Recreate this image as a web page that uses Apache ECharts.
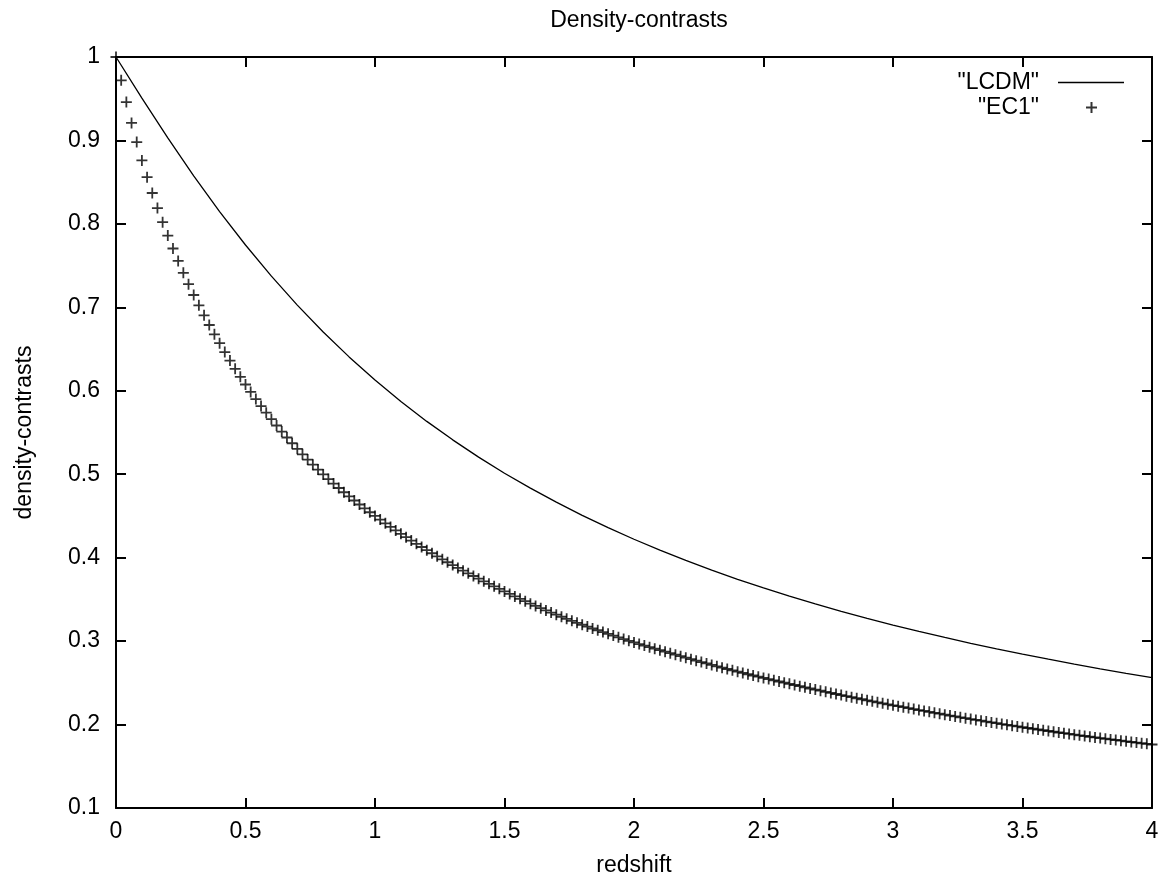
<!DOCTYPE html>
<html>
<head>
<meta charset="utf-8">
<title>Density-contrasts</title>
<script src="https://cdn.jsdelivr.net/npm/echarts@6/dist/echarts.min.js"></script>
<style>
    html, body { margin: 0; padding: 0; background: #fff; }
    #chart { width: 1167px; height: 882px; }
</style>
</head>
<body>
<div id="chart"></div>
<script>
// redshift samples of the LCDM curve
const lcdmZ = [0, 0.1, 0.2, 0.3, 0.4, 0.5, 0.6, 0.7, 0.8, 0.9,
    1, 1.1, 1.2, 1.3, 1.4, 1.5, 1.6, 1.7, 1.8, 1.9,
    2, 2.1, 2.2, 2.3, 2.4, 2.5, 2.6, 2.7, 2.8, 2.9,
    3, 3.1, 3.2, 3.3, 3.4, 3.5, 3.6, 3.7, 3.8, 3.9, 4]
const lcdmValues = [1.0000, 0.9507, 0.9030, 0.8576, 0.8148, 0.7747, 0.7374, 0.7027, 0.6705, 0.6406,
    0.6129, 0.5872, 0.5633, 0.5412, 0.5205, 0.5012, 0.4833, 0.4665, 0.4507, 0.4359,
    0.4221, 0.4090, 0.3967, 0.3851, 0.3741, 0.3638, 0.3539, 0.3446, 0.3357, 0.3273,
    0.3193, 0.3116, 0.3044, 0.2974, 0.2907, 0.2844, 0.2783, 0.2724, 0.2668, 0.2614, 0.2562]

// redshift samples of the EC1 points
const ec1Z = [0, 0.02, 0.04, 0.06, 0.08, 0.1, 0.12, 0.14, 0.16, 0.18,
    0.2, 0.22, 0.24, 0.26, 0.28, 0.3, 0.32, 0.34, 0.36, 0.38,
    0.4, 0.42, 0.44, 0.46, 0.48, 0.5, 0.52, 0.54, 0.56, 0.58,
    0.6, 0.62, 0.64, 0.66, 0.68, 0.7, 0.72, 0.74, 0.76, 0.78,
    0.8, 0.82, 0.84, 0.86, 0.88, 0.9, 0.92, 0.94, 0.96, 0.98,
    1, 1.02, 1.04, 1.06, 1.08, 1.1, 1.12, 1.14, 1.16, 1.18,
    1.2, 1.22, 1.24, 1.26, 1.28, 1.3, 1.32, 1.34, 1.36, 1.38,
    1.4, 1.42, 1.44, 1.46, 1.48, 1.5, 1.52, 1.54, 1.56, 1.58,
    1.6, 1.62, 1.64, 1.66, 1.68, 1.7, 1.72, 1.74, 1.76, 1.78,
    1.8, 1.82, 1.84, 1.86, 1.88, 1.9, 1.92, 1.94, 1.96, 1.98,
    2, 2.02, 2.04, 2.06, 2.08, 2.1, 2.12, 2.14, 2.16, 2.18,
    2.2, 2.22, 2.24, 2.26, 2.28, 2.3, 2.32, 2.34, 2.36, 2.38,
    2.4, 2.42, 2.44, 2.46, 2.48, 2.5, 2.52, 2.54, 2.56, 2.58,
    2.6, 2.62, 2.64, 2.66, 2.68, 2.7, 2.72, 2.74, 2.76, 2.78,
    2.8, 2.82, 2.84, 2.86, 2.88, 2.9, 2.92, 2.94, 2.96, 2.98,
    3, 3.02, 3.04, 3.06, 3.08, 3.1, 3.12, 3.14, 3.16, 3.18,
    3.2, 3.22, 3.24, 3.26, 3.28, 3.3, 3.32, 3.34, 3.36, 3.38,
    3.4, 3.42, 3.44, 3.46, 3.48, 3.5, 3.52, 3.54, 3.56, 3.58,
    3.6, 3.62, 3.64, 3.66, 3.68, 3.7, 3.72, 3.74, 3.76, 3.78,
    3.8, 3.82, 3.84, 3.86, 3.88, 3.9, 3.92, 3.94, 3.96, 3.98, 4]
const ec1Values = [
    1.0000, 0.9720, 0.9460, 0.9210, 0.8980, 0.8760, 0.8560, 0.8370, 0.8190, 0.8020, 0.7860,
    0.7705, 0.7556, 0.7414, 0.7278, 0.7148,
    0.7024, 0.6904, 0.6788, 0.6677, 0.6570,
    0.6464, 0.6362, 0.6263, 0.6167, 0.6075,
    0.5986, 0.5900, 0.5817, 0.5737, 0.5660,
    0.5584, 0.5511, 0.5440, 0.5371, 0.5304,
    0.5239, 0.5176, 0.5115, 0.5056, 0.4998,
    0.4942, 0.4888, 0.4835, 0.4784, 0.4734,
    0.4685, 0.4637, 0.4590, 0.4544, 0.4500,
    0.4456, 0.4412, 0.4369, 0.4327, 0.4286,
    0.4245, 0.4205, 0.4166, 0.4128, 0.4090,
    0.4053, 0.4016, 0.3980, 0.3945, 0.3911,
    0.3877, 0.3844, 0.3812, 0.3780, 0.3748,
    0.3717, 0.3686, 0.3656, 0.3626, 0.3596,
    0.3566, 0.3536, 0.3507, 0.3478, 0.3449,
    0.3422, 0.3395, 0.3368, 0.3342, 0.3317,
    0.3292, 0.3267, 0.3243, 0.3219, 0.3196,
    0.3174, 0.3151, 0.3130, 0.3108, 0.3087,
    0.3066, 0.3045, 0.3024, 0.3004, 0.2984,
    0.2965, 0.2946, 0.2927, 0.2909, 0.2891,
    0.2873, 0.2855, 0.2837, 0.2819, 0.2801,
    0.2783, 0.2766, 0.2749, 0.2732, 0.2715,
    0.2698, 0.2682, 0.2666, 0.2650, 0.2634,
    0.2619, 0.2603, 0.2588, 0.2574, 0.2559,
    0.2545, 0.2530, 0.2516, 0.2502, 0.2488,
    0.2474, 0.2460, 0.2446, 0.2432, 0.2419,
    0.2406, 0.2392, 0.2379, 0.2366, 0.2353,
    0.2340, 0.2328, 0.2315, 0.2303, 0.2290,
    0.2278, 0.2266, 0.2254, 0.2243, 0.2231,
    0.2220, 0.2208, 0.2197, 0.2185, 0.2174,
    0.2163, 0.2152, 0.2141, 0.2130, 0.2119,
    0.2108, 0.2098, 0.2087, 0.2077, 0.2066,
    0.2056, 0.2046, 0.2036, 0.2026, 0.2016,
    0.2006, 0.1997, 0.1987, 0.1978, 0.1968,
    0.1959, 0.1950, 0.1941, 0.1932, 0.1923,
    0.1914, 0.1905, 0.1897, 0.1888, 0.1879,
    0.1871, 0.1863, 0.1854, 0.1846, 0.1838,
    0.1830, 0.1822, 0.1815, 0.1807, 0.1799,
    0.1791, 0.1784, 0.1776, 0.1769, 0.1761]

const seriesNames = ['"LCDM"', '"EC1"']

const font = 'Liberation Sans, Arial, sans-serif'
const plus = 'path://M0,5L10,5M5,0L5,10'

let chart = echarts.init(document.getElementById('chart'), null, {renderer: 'canvas'})

// one frame axis: ticks inside, optional labels
function frameAxis(position, withLabels, range) {
    return {
        type: 'value',
        position: position,
        min: range[0],
        max: range[1],
        interval: range[2],
        axisLine: {show: true, onZero: false, lineStyle: {color: '#000', width: 2}},
        axisTick: {show: true, inside: true, length: 10, lineStyle: {color: '#000', width: 2}},
        axisLabel: {show: withLabels, color: '#000', fontSize: 23, fontFamily: font},
        splitLine: {show: false}
    }
}

const xRange = [0, 4, 0.5]
const yRange = [0.1, 1, 0.1]

let xBottom = frameAxis('bottom', true, xRange)
xBottom.name = 'redshift'
xBottom.nameLocation = 'middle'
xBottom.nameGap = 46
xBottom.nameTextStyle = {color: '#000', fontSize: 23, fontFamily: font}
xBottom.axisLabel.margin = 12

let yLeft = frameAxis('left', true, yRange)
yLeft.name = 'density-contrasts'
yLeft.nameLocation = 'middle'
yLeft.nameGap = 80
yLeft.nameTextStyle = {color: '#000', fontSize: 23, fontFamily: font}
yLeft.axisLabel.margin = 16

const option = {
    backgroundColor: '#fff',
    animation: false,
    title: {
        text: 'Density-contrasts',
        left: 634,
        textAlign: 'center',
        top: 4,
        textStyle: {color: '#000', fontSize: 23, fontWeight: 'normal', fontFamily: font}
    },
    grid: {left: 116, right: 15, top: 57, bottom: 74, containLabel: false},
    legend: [
        {
            data: [{name: seriesNames[0], icon: 'rect'}],
            align: 'right',
            right: 38,
            top: 66,
            itemWidth: 66,
            itemHeight: 1.4,
            textStyle: {color: '#000', fontSize: 23, fontFamily: font, padding: [0, 14, 0, 0]}
        },
        {
            data: [seriesNames[1]],
            align: 'right',
            right: 64,
            top: 91,
            itemWidth: 11,
            itemHeight: 11,
            textStyle: {color: '#000', fontSize: 23, fontFamily: font, padding: [0, 42, 0, 0]}
        }
    ],
    xAxis: [xBottom, frameAxis('top', false, xRange)],
    yAxis: [yLeft, frameAxis('right', false, yRange)],
    series: [
        {
            name: seriesNames[0],
            type: 'line',
            xAxisIndex: 0,
            yAxisIndex: 0,
            symbol: 'none',
            data: lcdmZ.map((z, i) => [z, lcdmValues[i]]),
            lineStyle: {color: '#000', width: 1.3},
            itemStyle: {color: '#000'}
        },
        {
            name: seriesNames[1],
            type: 'scatter',
            xAxisIndex: 0,
            yAxisIndex: 0,
            symbol: plus,
            symbolSize: 11,
            data: ec1Z.map((z, i) => [z, ec1Values[i]]),
            itemStyle: {color: 'transparent', borderColor: '#000', borderWidth: 1.8}
        }
    ]
}
chart.setOption(option)
</script>
</body>
</html>
